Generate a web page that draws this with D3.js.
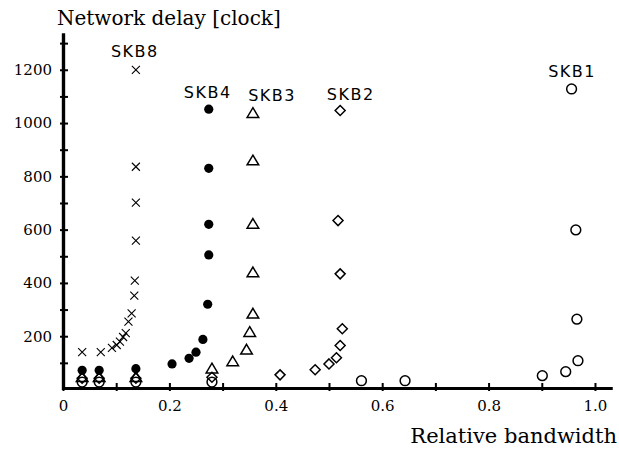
<!DOCTYPE html>
<html>
<head>
<meta charset="utf-8">
<script src="https://cdn.jsdelivr.net/npm/d3@7"></script>
<style>
  body { margin: 0; background: #fff; }
  svg { display: block; }
  .tick text { font-family: "DejaVu Serif", serif; font-size: 15px; fill: #000; }
  .title { font-family: "DejaVu Serif", serif; fill: #000; }
  .series-label { font-family: "DejaVu Sans", sans-serif; font-size: 16px; letter-spacing: 1.5px; fill: #000; }
</style>
</head>
<body>
<svg id="chart" width="619" height="453"></svg>
<script>
// values: [relative bandwidth, delay]
const skb1 = [[0.036, 28], [0.068, 28], [0.137, 28], [0.28, 28], [0.561, 33], [0.643, 33],
  [0.901, 52], [0.945, 67], [0.968, 108], [0.966, 264], [0.964, 599], [0.956, 1128]];
const skb2 = [[0.036, 42], [0.068, 42], [0.137, 42], [0.28, 46], [0.408, 55], [0.474, 74],
  [0.5, 96], [0.514, 119], [0.521, 165], [0.525, 228], [0.521, 434], [0.517, 634], [0.521, 1047]];
const skb3 = [[0.036, 46], [0.068, 46], [0.137, 46], [0.28, 78], [0.319, 105], [0.345, 149],
  [0.351, 215], [0.357, 284], [0.357, 439], [0.357, 621], [0.357, 859], [0.357, 1037]];
const skb4 = [[0.036, 72], [0.068, 72], [0.137, 78], [0.205, 96], [0.237, 117], [0.25, 140],
  [0.263, 188], [0.272, 320], [0.274, 505], [0.274, 620], [0.274, 830], [0.274, 1052]];
const skb8 = [[0.036, 140], [0.071, 140], [0.092, 156], [0.101, 167], [0.107, 180], [0.113, 197],
  [0.118, 212], [0.123, 255], [0.129, 286], [0.134, 352], [0.135, 409], [0.137, 559],
  [0.137, 701], [0.137, 836], [0.137, 1200]];

const seriesNames = ["SKB1", "SKB2", "SKB3", "SKB4", "SKB8"];
// label anchor in data units (left edge, baseline)
const labelPos = { SKB1: [0.912, 1172], SKB2: [0.496, 1086], SKB3: [0.348, 1083], SKB4: [0.227, 1095], SKB8: [0.09, 1247] };

const xMajor = [0, 0.2, 0.4, 0.6, 0.8, 1.0];
const xMinor = [0.1, 0.3, 0.5, 0.7, 0.9];
const yMajor = [200, 400, 600, 800, 1000, 1200];
const yMinor = [100, 300, 500, 700, 900, 1100, 1300];

const svg = d3.select("#chart");

const x = d3.scaleLinear().domain([0, 1.032]).range([63, 612]);
const y = d3.scaleLinear().domain([0, 1338]).range([389.5, 33]);

// axes
function styleAxis(g, vertical) {
  g.select(".domain").attr("stroke", "#000").attr("stroke-width", 3.2);
  g.selectAll(".tick line").attr("stroke", "#000").attr("stroke-width", 2);
  if (vertical) g.selectAll(".tick line").attr("x1", -3).attr("x2", 5);
  else g.selectAll(".tick line").attr("y1", -5).attr("y2", 3);
}

svg.append("g")
  .attr("transform", `translate(0,${y(0) - 1.5})`)
  .call(d3.axisBottom(x).tickValues(xMinor).tickFormat("").tickSizeOuter(0))
  .call(g => styleAxis(g, false));

svg.append("g")
  .attr("transform", `translate(0,${y(0) - 1.5})`)
  .call(d3.axisBottom(x).tickValues(xMajor).tickSizeOuter(0)
    .tickFormat(d => d === 0 ? "0" : d3.format(".1f")(d)))
  .call(g => styleAxis(g, false))
  .call(g => g.selectAll(".tick text").attr("y", 12).attr("dy", "0.71em"));

svg.append("g")
  .attr("transform", `translate(${x(0)},0)`)
  .call(d3.axisLeft(y).tickValues(yMinor).tickFormat("").tickSizeOuter(0))
  .call(g => styleAxis(g, true));

svg.append("g")
  .attr("transform", `translate(${x(0)},0)`)
  .call(d3.axisLeft(y).tickValues(yMajor).tickSizeOuter(0).tickFormat(d3.format("d")))
  .call(g => styleAxis(g, true))
  .call(g => g.selectAll(".tick text").attr("x", -11));

// titles
svg.append("text").attr("class", "title").attr("x", 57).attr("y", 25)
  .style("font-size", "20px").text("Network delay [clock]");
svg.append("text").attr("class", "title").attr("x", 617).attr("y", 443)
  .style("font-size", "21px").attr("text-anchor", "end").text("Relative bandwidth");

// markers
const plot = svg.append("g");
const stroke = { stroke: "#000", "stroke-width": 1.5, fill: "none" };
function applyAttrs(sel, attrs) { Object.entries(attrs).forEach(([k, v]) => sel.attr(k, v)); return sel; }

applyAttrs(plot.selectAll(".skb1").data(skb1).join("circle").attr("class", "skb1")
  .attr("cx", d => x(d[0])).attr("cy", d => y(d[1])).attr("r", 4.9), stroke);

applyAttrs(plot.selectAll(".skb2").data(skb2).join("path").attr("class", "skb2")
  .attr("transform", d => `translate(${x(d[0])},${y(d[1])})`)
  .attr("d", "M0,-5L5,0L0,5L-5,0Z"), stroke);

applyAttrs(plot.selectAll(".skb3").data(skb3).join("path").attr("class", "skb3")
  .attr("transform", d => `translate(${x(d[0])},${y(d[1])})`)
  .attr("d", "M0,-5.5L5.8,4.2L-5.8,4.2Z"), stroke);

plot.selectAll(".skb4").data(skb4).join("circle").attr("class", "skb4")
  .attr("cx", d => x(d[0])).attr("cy", d => y(d[1])).attr("r", 4.6).attr("fill", "#000");

applyAttrs(plot.selectAll(".skb8").data(skb8).join("path").attr("class", "skb8")
  .attr("transform", d => `translate(${x(d[0])},${y(d[1])})`)
  .attr("d", "M-4,-4L4,4M-4,4L4,-4"), { stroke: "#000", "stroke-width": 1.1, fill: "none" });

// series labels
svg.selectAll(".series-label").data(seriesNames).join("text")
  .attr("class", "series-label")
  .attr("x", d => x(labelPos[d][0])).attr("y", d => y(labelPos[d][1]))
  .text(d => d);
</script>
</body>
</html>
